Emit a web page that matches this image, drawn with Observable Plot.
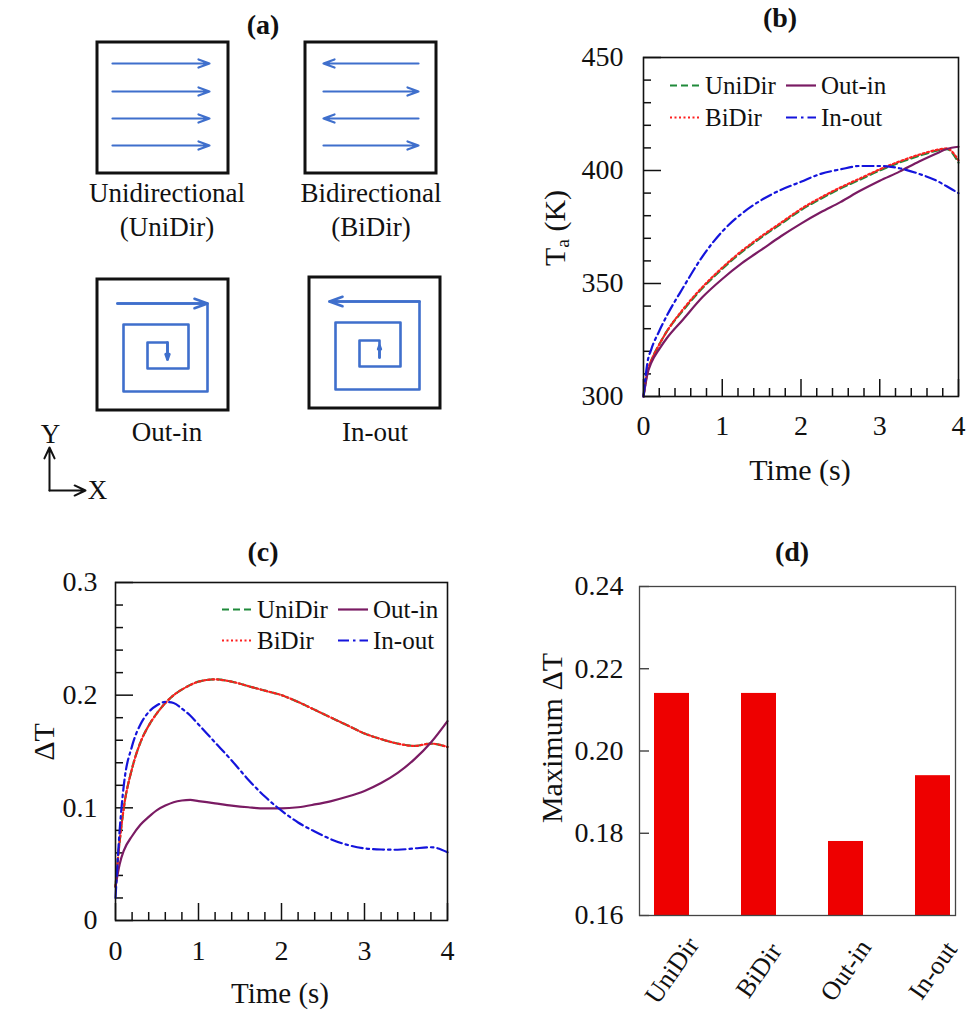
<!DOCTYPE html>
<html><head><meta charset="utf-8">
<script src="https://cdn.jsdelivr.net/npm/d3@7"></script>
<script src="https://cdn.jsdelivr.net/npm/@observablehq/plot@0.6"></script>
<style>
body{margin:0;background:#fff;}
#root{position:relative;width:967px;height:1011px;overflow:hidden;font-family:"Liberation Serif","Times New Roman",serif;color:#111;background:#fff;}
#root svg{position:absolute;overflow:visible;}
#root svg, #root svg text{font-family:"Liberation Serif","Times New Roman",serif !important;}
.lbl{position:absolute;transform:translate(-50%,-50%);white-space:nowrap;line-height:1;}
.rot{transform:translate(-50%,-50%) rotate(-90deg);}
.ttl{font-weight:bold;}
.leg{position:absolute;display:flex;align-items:center;font-size:25px;white-space:nowrap;line-height:1;transform:translateY(-50%);}
.leg svg{position:static !important;margin-right:5px;}
</style></head><body><div id="root"></div>
<script>
// ---------- data ----------
const seriesNames = ["UniDir", "BiDir", "Out-in", "In-out"];

// (b) surface temperature Ta (K) vs time (s)
const timeTa  = [0, 0.05, 0.1, 0.2, 0.3, 0.5, 0.75, 1, 1.25, 1.5, 1.75, 2, 2.25, 2.5, 2.75, 3, 3.25, 3.5, 3.75, 3.85, 4];
const taUniDir = [300, 311, 316, 323, 329, 338, 348, 356.5, 364, 370.5, 376.5, 382.5, 387.5, 392, 396, 400, 403.5, 406.5, 409, 409.5, 403.5];
const taBiDir  = [300, 311, 316, 323, 329, 338.5, 348.5, 357, 364.5, 371, 377, 383, 388, 392.5, 396.5, 400.5, 404, 407, 409.3, 409.8, 404.5];
const taOutIn  = [300, 310, 315, 321, 326, 334, 344, 352, 359, 365, 371, 376.5, 381.5, 386, 391, 395.5, 399.5, 404, 408, 409.5, 410.5];
const taInOut  = [300, 315, 321, 329, 336, 348, 362, 373, 381, 387, 391.5, 395, 398.5, 400.5, 402, 402, 401, 398.5, 395, 393, 390];
const taTicks = [300, 350, 400, 450];
const taMinorTicks = [310, 320, 330, 340, 360, 370, 380, 390, 410, 420, 430, 440];

// (c) temperature non-uniformity ΔT vs time (s)
const timeDT  = [0, 0.05, 0.1, 0.2, 0.3, 0.4, 0.5, 0.6, 0.7, 0.8, 0.9, 1, 1.2, 1.4, 1.6, 1.8, 2, 2.2, 2.4, 2.6, 2.8, 3, 3.2, 3.4, 3.6, 3.8, 4];
const dtUniDir = [0.03, 0.07, 0.1, 0.135, 0.158, 0.173, 0.184, 0.193, 0.2, 0.205, 0.209, 0.212, 0.214, 0.212, 0.208, 0.204, 0.2, 0.194, 0.187, 0.18, 0.173, 0.166, 0.161, 0.157, 0.155, 0.157, 0.154];
const dtBiDir  = [0.03, 0.07, 0.1, 0.135, 0.158, 0.173, 0.184, 0.193, 0.2, 0.205, 0.209, 0.212, 0.214, 0.212, 0.208, 0.204, 0.2, 0.194, 0.187, 0.18, 0.173, 0.166, 0.161, 0.157, 0.155, 0.157, 0.154];
const dtOutIn  = [0.03, 0.05, 0.062, 0.075, 0.085, 0.092, 0.098, 0.102, 0.105, 0.1065, 0.107, 0.106, 0.104, 0.102, 0.1005, 0.0995, 0.0995, 0.1005, 0.103, 0.106, 0.11, 0.115, 0.122, 0.131, 0.143, 0.158, 0.177];
const dtInOut  = [0.02, 0.08, 0.12, 0.155, 0.174, 0.185, 0.191, 0.194, 0.193, 0.188, 0.182, 0.174, 0.158, 0.142, 0.125, 0.11, 0.0975, 0.087, 0.079, 0.072, 0.067, 0.064, 0.063, 0.0628, 0.064, 0.065, 0.0606];
const dtTicks = [0, 0.1, 0.2, 0.3];
const dtMinorTicks = [0.02, 0.04, 0.06, 0.08, 0.12, 0.14, 0.16, 0.18, 0.22, 0.24, 0.26, 0.28];

// shared time axis ticks
const timeTicks = [0, 1, 2, 3, 4];
const timeMinorTicks = [0.2, 0.4, 0.6, 0.8, 1.2, 1.4, 1.6, 1.8, 2.2, 2.4, 2.6, 2.8, 3.2, 3.4, 3.6, 3.8];

// (d) maximum ΔT per scan pattern
const maxDT = [0.214, 0.214, 0.178, 0.194];
const maxTicks = [0.16, 0.18, 0.20, 0.22, 0.24];

// (a) scan-path schematic (box-local units, box side = 131)
const rasterRowsY = [21, 49, 76, 103];
const spiralPath = [[20, 24], [110, 24], [110, 112], [26, 112], [26, 45], [91, 45], [91, 89], [50, 89], [50, 63], [70, 63], [70, 80]];

// ---------- styles ----------
const FONT = "Liberation Serif, Times New Roman, serif";
const INK = "#111";
const colors = {"UniDir": "#1f8a3a", "BiDir": "#ff1f1f", "Out-in": "#7a1b63", "In-out": "#1414dc"};
const dashes = {"UniDir": "7,4", "BiDir": "2,2.5", "Out-in": null, "In-out": "11,4,2.5,4"};
const BLUE = "#3f6fcc";

const root = document.getElementById("root");
function place(el, left, top) { el.style.left = left + "px"; el.style.top = top + "px"; root.appendChild(el); return el; }
function label(html, x, y, cls = "", size = 30) {
  const d = document.createElement("div");
  d.className = "lbl " + cls; d.innerHTML = html; d.style.fontSize = size + "px";
  return place(d, x, y);
}
function legendItem(name, x, y) {
  const d = document.createElement("div");
  d.className = "leg";
  const w = 30;
  d.innerHTML = `<svg width="${w}" height="6"><line x1="0" y1="3" x2="${w}" y2="3" stroke="${colors[name]}" stroke-width="2.2" ${dashes[name] ? `stroke-dasharray="${dashes[name]}"` : ""}/></svg><span>${name}</span>`;
  return place(d, x, y);
}

// ---------- line panels ----------
function tidy(time, arrays) {
  return seriesNames.flatMap((s, i) => time.map((t, j) => ({s, t, v: arrays[i][j]})));
}
function linePanel({rows, yDomain, yMajor, yMinor, width, height, ml, mr, mt, mb, ypad, xpad, yfmt}) {
  const fw = width - ml - mr, fh = height - mt - mb;
  return Plot.plot({
    width, height, marginLeft: ml, marginRight: mr, marginTop: mt, marginBottom: mb,
    style: {fontFamily: FONT, fontSize: "28px", background: "transparent", color: INK, overflow: "visible"},
    x: {domain: [0, 4]},
    y: {domain: yDomain},
    marks: [
      Plot.tickY(yMinor, {y: d => d, insetRight: fw - 8, stroke: INK, strokeWidth: 1.5}),
      Plot.tickY(yMajor, {y: d => d, insetRight: fw - 18, stroke: INK, strokeWidth: 1.5}),
      Plot.tickX(timeMinorTicks, {x: d => d, insetTop: fh - 8, stroke: INK, strokeWidth: 1.5}),
      Plot.tickX(timeTicks, {x: d => d, insetTop: fh - 17, stroke: INK, strokeWidth: 1.5}),
      Plot.axisY(yMajor, {tickSize: 0, tickPadding: ypad, tickFormat: yfmt, label: null, fontSize: 28}),
      Plot.axisX(timeTicks, {tickSize: 0, tickPadding: xpad, label: null, fontSize: 28}),
      ...seriesNames.map(name => Plot.line(rows.filter(r => r.s === name), {
        x: "t", y: "v", stroke: colors[name], strokeWidth: 2.2,
        strokeDasharray: dashes[name], curve: "monotone-x"
      })),
      Plot.frame({stroke: INK, strokeWidth: 1.6})
    ]
  });
}

// (b)
const svgB = linePanel({
  rows: tidy(timeTa, [taUniDir, taBiDir, taOutIn, taInOut]),
  yDomain: [300, 450], yMajor: taTicks, yMinor: taMinorTicks,
  width: 487, height: 500, ml: 163, mr: 9, mt: 57, mb: 104, ypad: 20, xpad: 19, yfmt: d3.format("d")
});
place(svgB, 480, 0);

// (c)
const svgC = linePanel({
  rows: tidy(timeDT, [dtUniDir, dtBiDir, dtOutIn, dtInOut]),
  yDomain: [0, 0.3], yMajor: dtTicks, yMinor: dtMinorTicks,
  width: 480, height: 491, ml: 115, mr: 33, mt: 62, mb: 91, ypad: 18, xpad: 20, yfmt: d => String(d)
});
place(svgC, 0, 520);

// (d)
const barRows = seriesNames.map((s, i) => ({s, v: maxDT[i]}));
const svgD = Plot.plot({
  width: 407, height: 491, marginLeft: 79, marginRight: 12, marginTop: 66, marginBottom: 96,
  style: {fontFamily: FONT, fontSize: "28px", background: "transparent", color: INK, overflow: "visible"},
  x: {type: "band", domain: seriesNames, range: [66.6, 417.4], paddingInner: 0.6, paddingOuter: 0.3, axis: null},
  y: {domain: [maxTicks[0], maxTicks[maxTicks.length - 1]], axis: null},
  marks: [
    Plot.barY(barRows, {x: "s", y1: maxTicks[0], y2: "v", fill: "#ee0000"}),
    Plot.tickY(maxTicks, {y: d => d, insetRight: 316 - 10, stroke: "#333", strokeWidth: 1.3}),
    Plot.axisY(maxTicks, {tickSize: 0, tickPadding: 16, tickFormat: d3.format(".2f"), label: null, fontSize: 28}),
    Plot.text(seriesNames, {x: d => d, text: d => d, frameAnchor: "bottom", rotate: -55,
      textAnchor: "middle", lineAnchor: "middle", dy: 55, fontSize: 26, fill: INK}),
    Plot.frame({stroke: "#444", strokeWidth: 1.3})
  ]
});
place(svgD, 560, 520);

// (a) schematic
const S = 131;
const boxes = [
  {name: "UniDir", x: 97, y: 42}, {name: "BiDir", x: 305, y: 42},
  {name: "Out-in", x: 97, y: 279}, {name: "In-out", x: 309, y: 277}
];
const B = Object.fromEntries(boxes.map(b => [b.name, b]));
const rasterArrows = [
  ...rasterRowsY.map(y => ({x1: B.UniDir.x + 15, x2: B.UniDir.x + 112, y1: B.UniDir.y + y, y2: B.UniDir.y + y})),
  ...rasterRowsY.map((y, i) => {
    const a = B.BiDir.x + 18, b = B.BiDir.x + 113;
    return {x1: i % 2 ? a : b, x2: i % 2 ? b : a, y1: B.BiDir.y + y, y2: B.BiDir.y + y};
  })
];
const outInPts = spiralPath.map(([x, y]) => ({g: "o", x: B["Out-in"].x + x, y: B["Out-in"].y + y}));
const inOutPts = spiralPath.slice().reverse().map(([x, y]) => ({g: "i", x: B["In-out"].x + x, y: B["In-out"].y + y}));
const n = spiralPath.length;
const spiralArrows = [
  {x1: outInPts[0].x, y1: outInPts[0].y, x2: outInPts[1].x, y2: outInPts[1].y},
  {x1: outInPts[n - 2].x, y1: outInPts[n - 2].y, x2: outInPts[n - 1].x, y2: outInPts[n - 1].y},
  {x1: inOutPts[0].x, y1: inOutPts[0].y, x2: inOutPts[0].x, y2: inOutPts[0].y - 12},
  {x1: inOutPts[n - 2].x, y1: inOutPts[n - 2].y, x2: inOutPts[n - 1].x, y2: inOutPts[n - 1].y}
];
const schematicText = [
  {t: "Unidirectional", x: B.UniDir.x + S / 2 + 4, y: 193},
  {t: "(UniDir)", x: B.UniDir.x + S / 2 + 4, y: 227},
  {t: "Bidirectional", x: B.BiDir.x + S / 2, y: 193},
  {t: "(BiDir)", x: B.BiDir.x + S / 2, y: 227},
  {t: "Out-in", x: B["Out-in"].x + S / 2 + 4, y: 432},
  {t: "In-out", x: B["In-out"].x + S / 2, y: 432},
  {t: "Y", x: 50, y: 434},
  {t: "X", x: 97, y: 490}
];
const axesArrows = [{x1: 49, y1: 490, x2: 49, y2: 447}, {x1: 49, y1: 490, x2: 85, y2: 490}];
const svgA = Plot.plot({
  width: 480, height: 500, margin: 0,
  style: {fontFamily: FONT, background: "transparent", color: INK},
  x: {domain: [0, 480], range: [0, 480], axis: null},
  y: {domain: [0, 500], range: [0, 500], axis: null},
  marks: [
    Plot.rect(boxes, {x1: "x", x2: d => d.x + S, y1: "y", y2: d => d.y + S, stroke: INK, strokeWidth: 3, fill: "none"}),
    Plot.arrow(rasterArrows, {x1: "x1", y1: "y1", x2: "x2", y2: "y2", stroke: BLUE, strokeWidth: 2.2, headLength: 8, headAngle: 40}),
    Plot.line([...outInPts, ...inOutPts], {x: "x", y: "y", z: "g", stroke: BLUE, strokeWidth: 2.6, curve: "linear"}),
    Plot.arrow(spiralArrows, {x1: "x1", y1: "y1", x2: "x2", y2: "y2", stroke: BLUE, strokeWidth: 2.6, headLength: 8, headAngle: 40}),
    Plot.arrow(axesArrows, {x1: "x1", y1: "y1", x2: "x2", y2: "y2", stroke: INK, strokeWidth: 2, headLength: 9, headAngle: 50}),
    Plot.text(schematicText, {x: "x", y: "y", text: "t", fontSize: 27, fill: INK, lineAnchor: "middle"})
  ]
});
place(svgA, 0, 0);

// ---------- titles, axis labels, legends ----------
label("(a)", 263, 25, "ttl", 28);
label("(b)", 780, 18, "ttl", 28);
label("(c)", 263, 552, "ttl", 28);
label("(d)", 792, 552, "ttl", 28);

label("Time (s)", 800, 470, "", 30);
label("Time (s)", 280, 993, "", 29);
label("T<sub style='font-size:0.65em;vertical-align:-0.2em'>a</sub> (K)", 556, 228, "rot", 30);
label("ΔT", 44, 742, "rot", 30);
label("Maximum ΔT", 552, 738, "rot", 30);

legendItem("UniDir", 670, 85); legendItem("Out-in", 786, 85);
legendItem("BiDir", 670, 117); legendItem("In-out", 786, 117);
legendItem("UniDir", 222, 609); legendItem("Out-in", 338, 609);
legendItem("BiDir", 222, 640); legendItem("In-out", 338, 640);
</script></body></html>
